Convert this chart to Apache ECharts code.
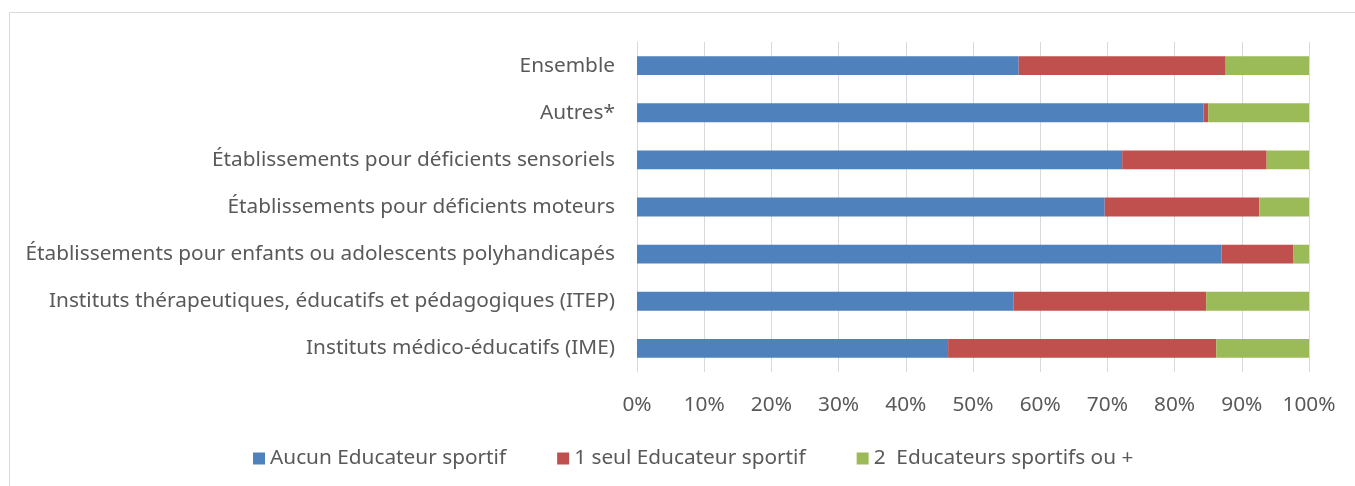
<!DOCTYPE html>
<html>
<head>
<meta charset="utf-8">
<script src="https://cdn.jsdelivr.net/npm/echarts@6/dist/echarts.min.js"></script>
<style>
  html, body { margin: 0; padding: 0; background: #fff; }
  #chart { width: 1355px; height: 486px; }
</style>
</head>
<body>
<div id="chart"></div>
<script>
// catégories, de bas en haut
var categories = [
  'Instituts médico-éducatifs (IME)',
  'Instituts thérapeutiques, éducatifs et pédagogiques (ITEP)',
  'Établissements pour enfants ou adolescents polyhandicapés',
  'Établissements pour déficients moteurs',
  'Établissements pour déficients sensoriels',
  'Autres*',
  'Ensemble'
];
var seriesNames = ['Aucun Educateur sportif', '1 seul Educateur sportif', '2  Educateurs sportifs ou +'];
var aucun = [46.3, 56.0, 87.0, 69.6, 72.2, 84.3, 56.8];
var unSeul = [39.9, 28.7, 10.7, 23.0, 21.5, 0.7, 30.8];
var deuxOuPlus = [13.8, 15.3, 2.3, 7.4, 6.3, 15.0, 12.4];
var colors = ['#4f81bd', '#c0504d', '#9bbb59'];

var chart = echarts.init(document.getElementById('chart'));
var font = 'Noto Sans';
var fs = 20.8;

function serie(name, data, i) {
  return {
    name: name,
    type: 'bar',
    stack: 'total',
    barWidth: '40%',
    data: data,
    itemStyle: { color: colors[i] }
  };
}

var option = {
  animation: false,
  textStyle: { fontFamily: font },
  graphic: [{
    type: 'rect',
    shape: { x: 9.5, y: 12.5, width: 1360, height: 490 },
    style: { fill: 'none', stroke: '#d9d9d9', lineWidth: 1 },
    silent: true
  }],
  legend: {
    bottom: 12,
    left: 248,
    itemWidth: 12,
    itemHeight: 12,
    itemGap: 51,
    icon: 'rect',
    textStyle: { fontSize: fs, color: '#595959', fontFamily: font },
    data: seriesNames
  },
  grid: { left: 637, right: 46, top: 42, bottom: 114, containLabel: false },
  xAxis: {
    type: 'value',
    min: 0,
    max: 100,
    interval: 10,
    axisLine: { show: false },
    axisTick: { show: false },
    axisLabel: {
      formatter: '{value}%',
      fontSize: fs,
      color: '#595959',
      margin: 23
    },
    splitLine: { lineStyle: { color: '#d9d9d9', width: 1 } }
  },
  yAxis: {
    type: 'category',
    data: categories,
    axisLine: { lineStyle: { color: '#d9d9d9' } },
    axisTick: { show: false },
    axisLabel: { fontSize: fs, color: '#595959', margin: 22 }
  },
  series: [
    serie(seriesNames[0], aucun, 0),
    serie(seriesNames[1], unSeul, 1),
    serie(seriesNames[2], deuxOuPlus, 2)
  ]
};

chart.setOption(option);
</script>
</body>
</html>
